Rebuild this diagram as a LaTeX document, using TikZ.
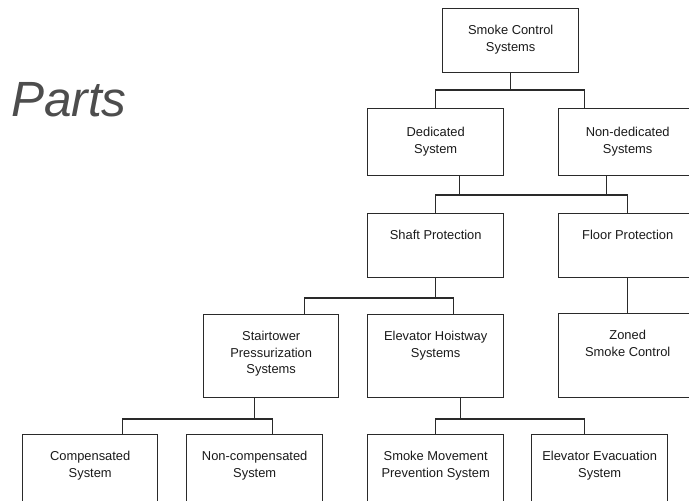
\documentclass[tikz,border=0pt]{standalone}
\usepackage{fontspec}
\setmainfont{Liberation Sans}
\usepackage{tikz}
\definecolor{linec}{HTML}{2A2A2A}
\definecolor{txtc}{HTML}{1A1A1A}
\definecolor{partsc}{HTML}{4D4D4D}

\begin{document}
\begin{tikzpicture}[x=1pt,y=-1pt,
    box/.style={draw=linec, line width=1.4pt, anchor=north west, minimum width=136pt, minimum height=#1, inner sep=0pt},
    box/.default=64pt,
    boxtext/.style={anchor=north, yshift=-17pt, inner sep=0pt, align=center, text=txtc, font=\fontsize{12.9}{16.7}\selectfont},
    wire/.style={draw=linec, line width=1.4pt}]
        \clip (0,0) rectangle (689,501);
        \useasboundingbox (0,0) rectangle (689,501);
        \node[anchor=base west, inner sep=0pt, text=partsc, font=\fontsize{49.5}{49.5}\selectfont\itshape] (parts) at (11,116) {Parts};
        % top levels
        \node[box, label={[boxtext]north:Smoke Control\\Systems}] (sys) at (442,8) {};
        \node[box=67pt, label={[boxtext,yshift=-2pt]north:Dedicated\\System}] (ded) at (367,108) {};
        \node[box=67pt, minimum width=138pt, label={[boxtext,yshift=-2pt]north:Non-dedicated\\Systems}] (nonded) at (558,108) {};
        \node[box, label={[boxtext]north:Shaft Protection}] (shaft) at (367,213) {};
        \node[box, minimum width=138pt, label={[boxtext]north:Floor Protection}] (floor) at (558,213) {};
        % third level
        \node[box=83pt, minimum width=135pt, label={[boxtext]north:Stairtower\\Pressurization\\Systems}] (stair) at (203,314) {};
        \node[box=83pt, label={[boxtext]north:Elevator Hoistway\\Systems}] (elev) at (367,314) {};
        \node[box=84pt, minimum width=138pt, label={[boxtext]north:Zoned\\Smoke Control}] (zoned) at (558,313) {};
        % bottom row
        \node[box=90pt, minimum width=135pt, label={[boxtext]north:Compensated\\System}] (comp) at (22,434) {};
        \node[box=90pt, label={[boxtext]north:Non-compensated\\System}] (noncomp) at (186,434) {};
        \node[box=90pt, label={[boxtext]north:Smoke Movement\\Prevention System}] (smoke) at (367,434) {};
        \node[box=90pt, label={[boxtext]north:Elevator Evacuation\\System}] (evac) at (531,434) {};
        % connectors
        \draw[wire] (sys.south) -- ++(0,18);
        \draw[wire] (ded.north) -- ++(0,-18) -| ([xshift=-43pt]nonded.north);
        \draw[wire] ([xshift=24pt]ded.south) -- ++(0,20);
        \draw[wire] ([xshift=-21pt]nonded.south) -- ++(0,20);
        \draw[wire] (shaft.north) -- ++(0,-18) -| (floor.north);
        \draw[wire] (shaft.south) -- ++(0,21);
        \draw[wire] ([xshift=33.5pt]stair.north) -- ++(0,-16) -| ([xshift=18pt]elev.north);
        \draw[wire] (floor.south) -- (zoned.north);
        \draw[wire] ([xshift=-16.5pt]stair.south) -- ++(0,22);
        \draw[wire] ([xshift=32pt]comp.north) -- ++(0,-15) -| ([xshift=18pt]noncomp.north);
        \draw[wire] ([xshift=24.5pt]elev.south) -- ++(0,22);
        \draw[wire] (smoke.north) -- ++(0,-15) -| ([xshift=-15pt]evac.north);
\end{tikzpicture}
\end{document}
